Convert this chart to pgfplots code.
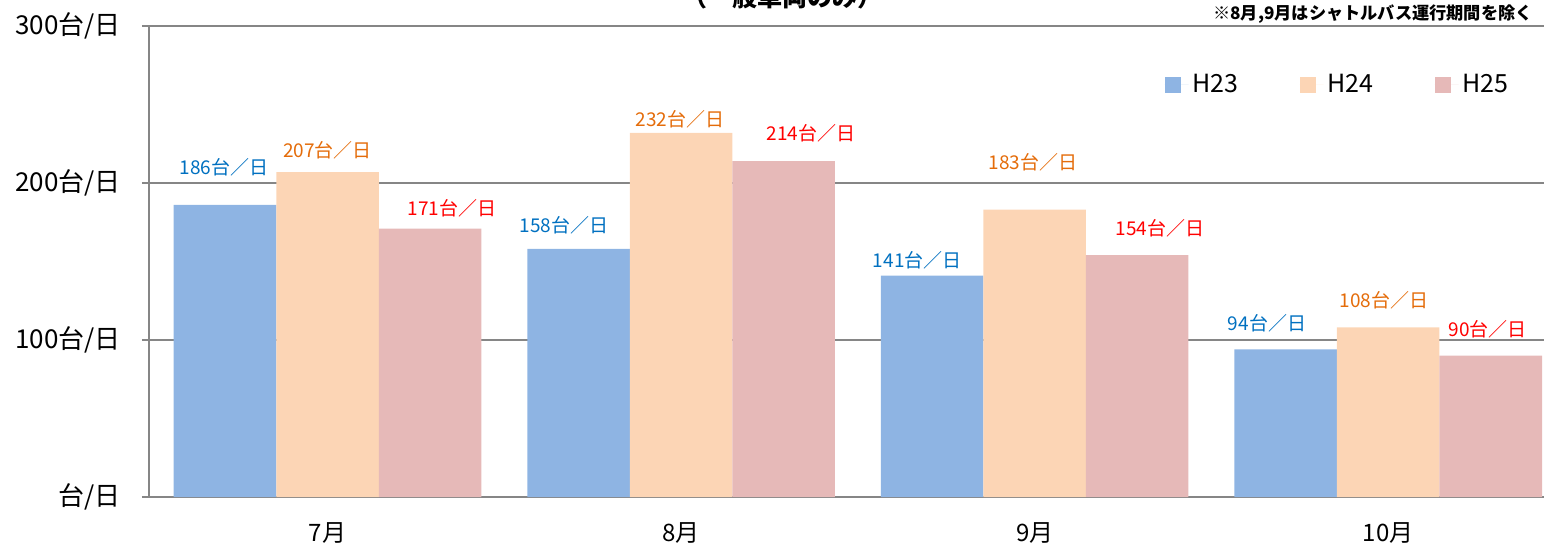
\documentclass[border=0pt]{standalone}
\usepackage{pgfplots}
\pgfplotsset{compat=1.18}
\usepackage{fontspec}
\setmainfont{Noto Sans CJK JP}
\definecolor{cH23}{HTML}{8EB4E3}
\definecolor{cH24}{HTML}{FCD5B5}
\definecolor{cH25}{HTML}{E6B9B8}
\definecolor{tH23}{HTML}{0070C0}
\definecolor{tH24}{HTML}{E46C0A}
\definecolor{tH25}{HTML}{FF0000}
\definecolor{gridc}{HTML}{868686}
\begin{document}
\begin{tikzpicture}
\begin{axis}[
  at={(74.5pt,25.5pt)}, anchor=south west,
  scale only axis, width=708pt, height=235.5pt,
  xmin=-0.505, xmax=3.5, ymin=0, ymax=300,
  ybar, bar width=0.29,
  xtick={0,1,2,3}, xticklabels={7月,8月,9月,10月},
  ytick={0,100,200,300},
  yticklabels={台/日,100台/日,200台/日,300台/日},
  ymajorgrids, grid style={gridc, line width=1pt},
  separate axis lines,
  axis x line*=bottom, axis y line*=left,
  axis line style={gridc, line width=1.3pt, -},
  x axis line style={-}, y axis line style={-},
  major x tick style={draw=none},
  major y tick style={gridc, line width=1pt},
  ytick style={gridc}, tick align=outside, major tick length=3.5pt,
  yticklabel style={font=\fontsize{13pt}{15pt}\selectfont, xshift=-7pt},
  xticklabel style={font=\fontsize{12pt}{14pt}\selectfont, yshift=-6pt},
  legend columns=3,
  legend style={draw=none, fill=none, at={(axis description cs:0.717,0.875)}, anchor=west,
    font=\fontsize{12.5pt}{14pt}\selectfont, inner sep=0pt,
    /tikz/every even column/.append style={column sep=28.5pt}},
  legend image code/.code={\fill[#1] (0pt,-4pt) rectangle (8pt,4pt); \path (0pt,0pt) -- (12pt,0pt);},
  clip=false,
]
\addplot[fill=cH23, draw=none, bar shift=-0.29] coordinates {(0,186) (1,158) (2,141) (3,94)};
\addplot[fill=cH24, draw=none, bar shift=0] coordinates {(0,207) (1,232) (2,183) (3,108)};
\addplot[fill=cH25, draw=none, bar shift=0.29] coordinates {(0,171) (1,214) (2,154) (3,90)};
\legend{H23,H24,H25}
\begin{scope}[every node/.style={font=\fontsize{9.5pt}{11pt}\selectfont, inner sep=0pt}]
\node[text=tH23] at (axis cs:-0.293,210.2) {186台／日};
\node[text=tH24] at (axis cs:0,221) {207台／日};
\node[text=tH25] at (axis cs:0.352,184) {171台／日};
\node[text=tH23] at (axis cs:0.669,173) {158台／日};
\node[text=tH24] at (axis cs:0.997,240.8) {232台／日};
\node[text=tH25] at (axis cs:1.367,231.8) {214台／日};
\node[text=tH23] at (axis cs:1.668,151) {141台／日};
\node[text=tH24] at (axis cs:1.995,213.4) {183台／日};
\node[text=tH25] at (axis cs:2.355,171.3) {154台／日};
\node[text=tH23] at (axis cs:2.657,110.8) {94台／日};
\node[text=tH24] at (axis cs:2.988,125.5) {108台／日};
\node[text=tH25] at (axis cs:3.282,107) {90台／日};
\end{scope}
\end{axis}
\node[anchor=base, font=\bfseries\fontsize{12.5pt}{14pt}\selectfont] at (391pt,271pt) {（一般車両のみ）};
\node[anchor=east, inner sep=0pt, font=\bfseries\fontsize{8.6pt}{10pt}\selectfont] at (766.5pt,267pt) {※8月,9月はシャトルバス運行期間を除く};
\pgfresetboundingbox
\useasboundingbox (0,0) rectangle (772pt,274pt);
\end{tikzpicture}
\end{document}
